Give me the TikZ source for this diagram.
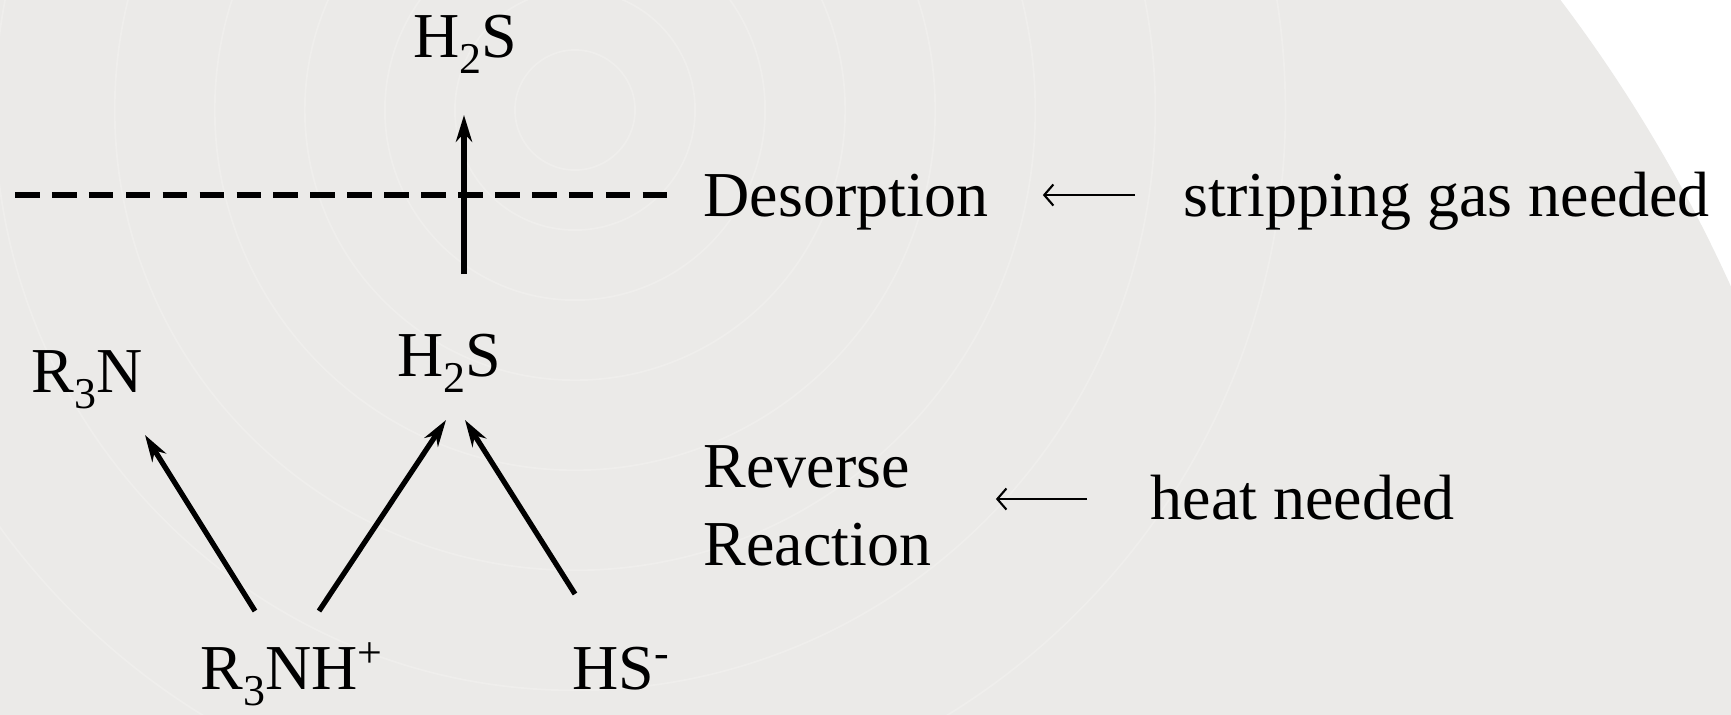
\documentclass[tikz,border=0pt]{standalone}
\usepackage{fontspec}
\setmainfont{Liberation Serif}
\usetikzlibrary{arrows.meta,positioning,calc}
\definecolor{slidebg}{RGB}{235,234,232}
\definecolor{ringline}{RGB}{239,238,236}
\newcommand{\chemsub}[1]{\raisebox{-0.26em}{\fontsize{12.5}{12}\selectfont #1}}
\newcommand{\chemsup}[1]{\raisebox{0.33em}{\fontsize{12.5}{12}\selectfont #1}}

\begin{document}
\begin{tikzpicture}[x=0.01cm, y=-0.01cm,
  chem/.style={font=\fontsize{18.2}{22}\selectfont, inner sep=0pt, anchor=base west},
  bigarr/.style={-{Stealth[length=7.6pt, width=4.6pt, inset=2.4pt]}, line width=1.5pt},
  smallarr/.style={-{Straight Barb[length=2.6pt, width=6pt]}, line width=0.6pt},
  phase/.style={dash pattern=on 7pt off 3.5pt, line width=1.6pt}
]
  % slide background
  \useasboundingbox (0,0) rectangle (1731,714);
  \fill[white] (0,0) rectangle (1731,714);
  \begin{scope}
    \clip (0,0) rectangle (1731,714);
    \fill[slidebg] (363,905) circle[radius=15cm];
    \foreach \r in {0.6,1.2,1.9,2.7,3.6,4.6,5.8,7.1}
      \draw[ringline, line width=0.5pt] (575,110) circle[radius=\r cm];
  \end{scope}

  % species
  \node[chem, anchor=base] (gas) at (465,57) {H\chemsub{2}S};
  \node[chem, anchor=base] (mid) at (449,376) {H\chemsub{2}S};
  \node[chem] (amine) at (31,392) {R\chemsub{3}N};
  \node[chem] (prot) at (200,689) {R\chemsub{3}NH\chemsup{+}};
  \node[chem] (bisulf) at (572,689) {HS\chemsup{-}};

  % steps and what they need
  \node[chem] (des) at (703,216) {Desorption};
  \node[chem] (strip) at (1183,216) {stripping gas needed};
  \node[chem, anchor=north west, align=left] (rev) at (703,445) {Reverse\\Reaction};
  \node[chem] (heat) at (1150,519) {heat needed};

  % gas/liquid boundary
  \draw[phase] ($(des.base west)+(-688,-21)$) -- ($(des.base west)+(-33,-21)$);

  \draw[bigarr] ($(mid.base)+(15,-102)$) -- ($(gas.base)+(-1,58)$);
  \draw[bigarr] ($(prot.base west)+(55,-78)$) -- ($(amine.base west)+(114,43)$);
  \draw[bigarr] ($(prot.base west)+(119,-78)$) -- ($(mid.base)+(-3,44)$);
  \draw[bigarr] ($(bisulf.base west)+(3,-95)$) -- ($(mid.base)+(16,44)$);

  \draw[smallarr] ($(strip.base west)+(-48,-21)$) -- ($(des.base east)+(54,-21)$);
  \draw[smallarr] ($(heat.base west)+(-63,-20)$) -- ($(rev.east |- heat.base)+(64,-20)$);
\end{tikzpicture}
\end{document}
